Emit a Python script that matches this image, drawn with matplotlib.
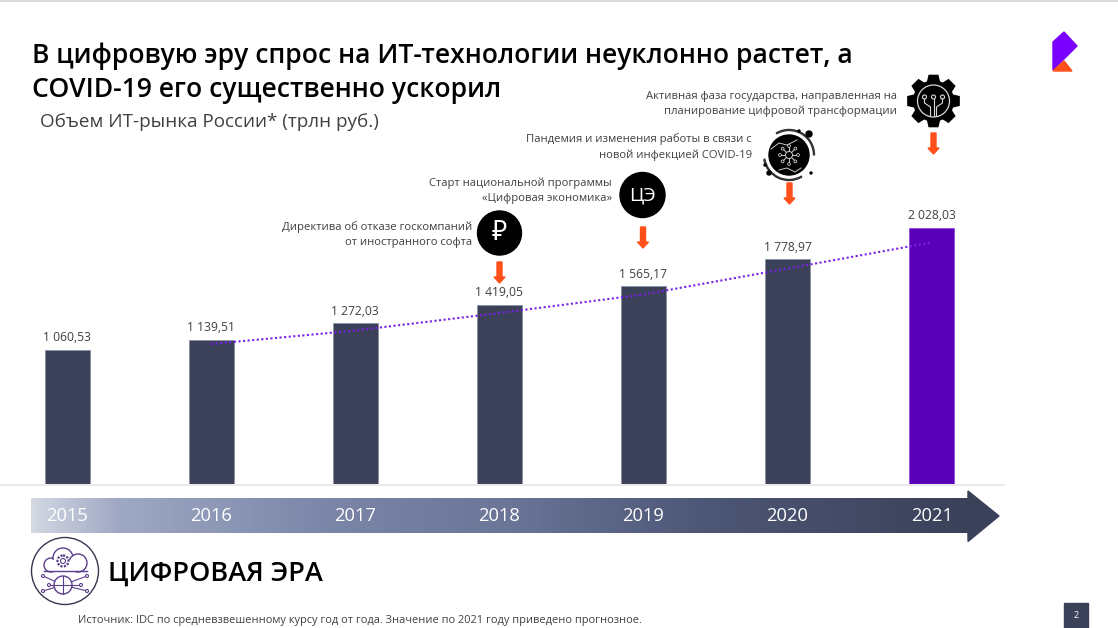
import numpy as np
import matplotlib
matplotlib.use('Agg')
import matplotlib.pyplot as plt
from matplotlib.colors import LinearSegmentedColormap
from matplotlib.patches import Circle, Polygon, Rectangle, Wedge

plt.rcParams['font.family'] = ['Open Sans', 'DejaVu Sans']

years = ['2015', '2016', '2017', '2018', '2019', '2020', '2021']
values = [1060.53, 1139.51, 1272.03, 1419.05, 1565.17, 1778.97, 2028.03]
trend_idx = [1, 2, 3, 4, 5, 6]
trend_values = [1107, 1214, 1353, 1500, 1706, 1913]

title_lines = ['В цифровую эру спрос на ИТ-технологии неуклонно растет, а',
               'COVID-19 его существенно ускорил']
subtitle = 'Объем ИТ-рынка России* (трлн руб.)'
era = 'ЦИФРОВАЯ ЭРА'
source = 'Источник: IDC по средневзвешенному курсу год от года. Значение по 2021 году приведено прогнозное.'

W, H = 1118, 628
DARK = '#3a4159'
ORANGE = '#ff5019'
GREY = '#404040'

fig = plt.figure(figsize=(W / 100, H / 100), dpi=100, facecolor='white')

# bars, 144.1 px per category, 0.126 px per value unit
base_y = 483.5
top_y = 190
ax = fig.add_axes([0, 1 - base_y / H, 1004 / W, (base_y - top_y) / H])
ax.set_xlim(-67 / 144.1, (1004 - 67) / 144.1)
ax.set_ylim(0, (base_y - top_y) / 0.126)
ax.axis('off')
colors = [DARK] * 6 + ['#5a00b8']
edges = ['#8a90a3'] * 6 + ['#8a3ee0']
x = np.arange(len(values))
ax.bar(x, values, width=45 / 144.1, color=colors, edgecolor=edges, linewidth=0.5, zorder=2)
ax.plot(trend_idx, trend_values, color='#7a1fe8', lw=1.5, ls=(0, (1, 1.2)), zorder=3)
for i, v in zip(x, values):
    label = f'{v:,.2f}'.replace(',', ' ').replace('.', ',')
    ax.annotate(label, (i, v), xytext=(0, 4), textcoords='offset points', ha='center', va='bottom',
                fontsize=8.7, color=GREY, zorder=4)

# everything else in pixel coords
ov = fig.add_axes([0, 0, 1, 1], facecolor='none')
ov.set_xlim(0, W)
ov.set_ylim(H, 0)
ov.axis('off')

ov.plot([0, W], [0.5, 0.5], color='#d9d9d9', lw=1.5)
ov.plot([0, 1004], [484.5, 484.5], color='#e8e8e8', lw=1.5)

ov.text(32, 56, title_lines[0], fontsize=19.1, fontweight='semibold', color='black', va='center')
ov.text(32, 90, title_lines[1], fontsize=19.1, fontweight='semibold', color='black', va='center')
ov.text(40, 122, subtitle, fontsize=13.6, color=GREY, va='center')

# timeline arrow
cmap = LinearSegmentedColormap.from_list('tl', [(0, '#d3d8e3'), (0.09, '#a0a9c4'), (0.17, '#929cba'),
                                                (0.32, '#7a85a8'), (0.5, '#6b7699'), (0.72, '#4d5675'),
                                                (1, '#3a4159')])
ov.imshow(np.linspace(0, 1, 256).reshape(1, -1), cmap=cmap, aspect='auto', extent=(31, 968, 533.5, 499), zorder=1)
ov.set_xlim(0, W)
ov.set_ylim(H, 0)
ov.add_patch(Polygon([(968, 491), (999, 516), (968, 541.5)], color=DARK, zorder=2))
for i, yr in enumerate(years):
    ov.text(67 + 144.1 * i, 516, yr, color='white', fontsize=13.2, ha='center', va='center', zorder=3)


def down_arrow(cx, y0, y1):
    ov.add_patch(Polygon([(cx - 2.5, y0), (cx + 2.5, y0), (cx + 2.5, y1 - 6), (cx + 5.5, y1 - 6), (cx, y1),
                          (cx - 5.5, y1 - 6), (cx - 2.5, y1 - 6)], color=ORANGE, zorder=3))


down_arrow(499.5, 262, 283)
down_arrow(643, 227, 248)
down_arrow(789.5, 183, 204)
down_arrow(933.5, 133, 154)

notes = [(472, 227, 'Директива об отказе госкомпаний'), (472, 242, 'от иностранного софта'),
         (612, 183, 'Старт национальной программы'), (612, 198, '«Цифровая экономика»'),
         (752, 139, 'Пандемия и изменения работы в связи с'), (752, 155, 'новой инфекцией COVID-19'),
         (897, 96, 'Активная фаза государства, направленная на'), (897, 111, 'планирование цифровой трансформации')]
for nx, ny, s in notes:
    ov.text(nx, ny, s, fontsize=8.15, color=GREY, ha='right', va='center')

# icons
ov.add_patch(Circle((499.5, 233), 22, color='black', zorder=3))
ov.text(499.5, 233, '₽', color='white', fontsize=19, ha='center', va='center', zorder=4,
        family=['Noto Sans', 'DejaVu Sans'])
ov.add_patch(Circle((642.5, 195), 22.5, color='black', zorder=3))
ov.text(642.5, 195, 'ЦЭ', color='white', fontsize=14, ha='center', va='center', zorder=4)

# virus
vx, vy = 789, 155
ov.add_patch(Circle((vx, vy), 20, color='black', zorder=3))
ov.add_patch(Wedge((vx, vy), 25.5, 60, 170, width=1, color='#333333', zorder=3))
ov.add_patch(Wedge((vx, vy), 25.5, 240, 360, width=1, color='#333333', zorder=3))
for dx, dy, r in [(20, -21, 3), (-20, 18, 2), (22, 18, 1), (-24, 10, 1), (10, -24, 1)]:
    ov.add_patch(Circle((vx + dx, vy + dy), r, color='black', zorder=3))
for a in np.arange(0, 360, 45):
    ca, sa = np.cos(np.radians(a)), np.sin(np.radians(a))
    ov.plot([vx, vx + 9 * ca], [vy, vy + 9 * sa], color='#d0d0d0', lw=0.7, zorder=4)
    ov.add_patch(Circle((vx + 9 * ca, vy + 9 * sa), 1.4, fc='black', ec='#d0d0d0', lw=0.6, zorder=5))
ov.add_patch(Circle((vx, vy), 3.5, fc='black', ec='#d0d0d0', lw=0.7, zorder=5))
ov.plot([vx - 18, vx - 10, vx - 2, vx + 8], [vy - 6, vy - 12, vy - 10, vy - 15], color='#c8c8c8', lw=0.7, zorder=4)
ov.plot([vx - 10, vx - 2, vx + 6, vx + 12], [vy + 15, vy + 13, vy + 17, vy + 13], color='#c8c8c8', lw=0.7, zorder=4)

# gear
gx, gy = 933.5, 101
n = 8
pts = []
for k in range(n):
    a = 2 * np.pi * k / n - np.pi / 2
    for da, r in [(-0.30, 20), (-0.17, 26), (0.17, 26), (0.30, 20)]:
        pts.append((gx + r * np.cos(a + da), gy + r * np.sin(a + da)))
ov.add_patch(Polygon(pts, color='black', zorder=3))
ov.add_patch(Circle((gx, gy), 16, fc='black', ec='#d8d8d8', lw=0.9, zorder=4))
for dx in (-9, 0, 9):
    ov.add_patch(Circle((gx + dx, gy - 4), 2, fc='black', ec='#d8d8d8', lw=0.8, zorder=5))
ov.plot([gx - 9, gx - 9, gx - 3, gx - 3], [gy - 2, gy + 2, gy + 6, gy + 15], color='#d8d8d8', lw=0.8, zorder=5)
ov.plot([gx, gx], [gy - 2, gy + 15], color='#d8d8d8', lw=0.8, zorder=5)
ov.plot([gx + 9, gx + 9, gx + 3, gx + 3], [gy - 2, gy + 2, gy + 6, gy + 15], color='#d8d8d8', lw=0.8, zorder=5)

# logo
ov.add_patch(Polygon([(1053, 42), (1064, 32), (1077, 46), (1053, 70)], color='#7a00ff', zorder=3))
ov.add_patch(Polygon([(1053, 71), (1064, 61), (1072, 71)], color=ORANGE, zorder=3))

# era badge
ex, ey = 65, 571
ICON = '#5b3f8c'
ov.add_patch(Circle((ex, ey), 33.5, fc='white', ec='#3a3550', lw=1, zorder=3))
for cx, cy, r in [(ex - 14, ey - 6, 7), (ex - 2, ey - 13, 10), (ex + 13, ey - 8, 9)]:
    ov.add_patch(Circle((cx, cy), r, fc='white', ec=ICON, lw=1, zorder=4))
ov.add_patch(Rectangle((ex - 15, ey - 11), 30, 11, fc='white', ec='none', zorder=5))
ov.plot([ex - 21, ex + 22], [ey, ey], color=ICON, lw=1, zorder=5)
ov.add_patch(Circle((ex - 2, ey - 10), 5.5, fc='white', ec=ICON, lw=1.6, ls=(0, (1, 0.6)), zorder=6))
ov.add_patch(Circle((ex - 2, ey - 10), 2.5, fc='white', ec=ICON, lw=0.8, zorder=6))
for dx, dy in [(-22, 5), (22, 5), (-16, 14), (16, 14), (-22, 20), (22, 20)]:
    ov.plot([ex + dx, ex - 2], [ey + dy, ey + 14], color=ICON, lw=0.8, zorder=4)
    ov.add_patch(Circle((ex + dx, ey + dy), 1.5, fc='white', ec=ICON, lw=0.8, zorder=5))
ov.add_patch(Circle((ex - 2, ey + 14), 9, fc='white', ec=ICON, lw=1, zorder=6))
ov.plot([ex - 2, ex - 2], [ey + 5, ey + 23], color=ICON, lw=0.8, zorder=7)
ov.plot([ex - 11, ex + 7], [ey + 14, ey + 14], color=ICON, lw=0.8, zorder=7)

ov.text(108, 574, era, fontsize=19.5, color='black', va='center', fontweight='semibold')
ov.text(78, 621, source, fontsize=7.95, color=GREY, va='center')

# page number
ov.add_patch(Rectangle((1064, 603), 24, 25, color=DARK, zorder=3))
ov.text(1076, 615, '2', color='white', fontsize=6.5, ha='center', va='center', zorder=4)

fig.savefig('out.png', dpi=100)
